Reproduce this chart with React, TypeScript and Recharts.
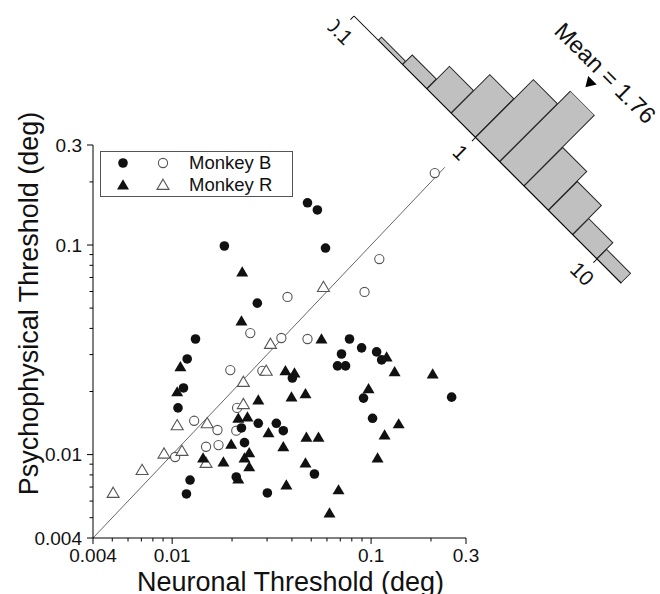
import React from 'react';
import {
  ScatterChart,
  Scatter,
  XAxis,
  YAxis,
  ReferenceLine,
  BarChart,
  Bar,
  ReferenceDot
} from 'recharts';

// Monkey B, filled circles (neuronal, psychophysical threshold in deg)
const monkeyBFilled = [
  { x: 0.0183, y: 0.0989 }, { x: 0.0479, y: 0.159 }, { x: 0.0537, y: 0.147 },
  { x: 0.059, y: 0.0967 }, { x: 0.0268, y: 0.0528 }, { x: 0.0131, y: 0.0356 },
  { x: 0.0119, y: 0.0286 }, { x: 0.0114, y: 0.0208 }, { x: 0.0107, y: 0.0167 },
  { x: 0.0402, y: 0.0232 }, { x: 0.0779, y: 0.0356 }, { x: 0.0896, y: 0.0323 },
  { x: 0.071, y: 0.0302 }, { x: 0.1066, y: 0.0309 }, { x: 0.113, y: 0.0283 },
  { x: 0.0678, y: 0.0265 }, { x: 0.0744, y: 0.0265 }, { x: 0.0916, y: 0.0186 },
  { x: 0.254, y: 0.0188 }, { x: 0.1017, y: 0.0149 }, { x: 0.0519, y: 0.00808 },
  { x: 0.0271, y: 0.0141 }, { x: 0.0334, y: 0.0141 }, { x: 0.0362, y: 0.013 },
  { x: 0.0223, y: 0.0134 }, { x: 0.0231, y: 0.0114 }, { x: 0.021, y: 0.00782 },
  { x: 0.0123, y: 0.00756 }, { x: 0.0118, y: 0.00649 }, { x: 0.0301, y: 0.00656 },
];

// Monkey B, open circles
const monkeyBOpen = [
  { x: 0.209, y: 0.2205 }, { x: 0.11, y: 0.0857 }, { x: 0.0927, y: 0.0597 },
  { x: 0.038, y: 0.0565 }, { x: 0.0247, y: 0.038 }, { x: 0.0354, y: 0.036 },
  { x: 0.0479, y: 0.0356 }, { x: 0.0196, y: 0.0253 }, { x: 0.0284, y: 0.0251 },
  { x: 0.0212, y: 0.0167 }, { x: 0.0129, y: 0.0145 }, { x: 0.0169, y: 0.0131 },
  { x: 0.021, y: 0.013 }, { x: 0.0148, y: 0.0109 }, { x: 0.0171, y: 0.0111 },
  { x: 0.01035, y: 0.00974 },
];

// Monkey R, filled triangles
const monkeyRFilled = [
  { x: 0.0225, y: 0.0743 }, { x: 0.0223, y: 0.0434 }, { x: 0.0563, y: 0.0356 },
  { x: 0.011, y: 0.0262 }, { x: 0.0371, y: 0.0251 }, { x: 0.0412, y: 0.0245 },
  { x: 0.1197, y: 0.0292 }, { x: 0.1313, y: 0.0248 }, { x: 0.204, y: 0.0242 },
  { x: 0.0106, y: 0.0199 }, { x: 0.0271, y: 0.0182 }, { x: 0.0398, y: 0.0188 },
  { x: 0.0468, y: 0.0195 }, { x: 0.0971, y: 0.0206 }, { x: 0.1376, y: 0.014 },
  { x: 0.1169, y: 0.0124 }, { x: 0.0473, y: 0.0121 }, { x: 0.0544, y: 0.0121 },
  { x: 0.1078, y: 0.00963 }, { x: 0.0468, y: 0.00912 }, { x: 0.0686, y: 0.00678 },
  { x: 0.0618, y: 0.00526 }, { x: 0.0215, y: 0.0149 }, { x: 0.0239, y: 0.0151 },
  { x: 0.0305, y: 0.0127 }, { x: 0.0198, y: 0.0112 }, { x: 0.0362, y: 0.0109 },
  { x: 0.0244, y: 0.0102 }, { x: 0.0231, y: 0.00963 }, { x: 0.0244, y: 0.00873 },
  { x: 0.0143, y: 0.00963 }, { x: 0.0181, y: 0.00922 }, { x: 0.0215, y: 0.00765 },
  { x: 0.0375, y: 0.00716 },
];

// Monkey R, open triangles
const monkeyROpen = [
  { x: 0.0576, y: 0.063 }, { x: 0.0312, y: 0.0337 }, { x: 0.0297, y: 0.0251 },
  { x: 0.0228, y: 0.0222 }, { x: 0.0228, y: 0.0174 }, { x: 0.0106, y: 0.0138 },
  { x: 0.015, y: 0.0141 }, { x: 0.0112, y: 0.0104 }, { x: 0.0091, y: 0.0101 },
  { x: 0.0148, y: 0.00912 }, { x: 0.00706, y: 0.00844 }, { x: 0.00505, y: 0.00656 },
];

const legendLabels = ['Monkey B', 'Monkey R'];

const axisDomain = [0.004, 0.3];
const majorTicks = [0.004, 0.01, 0.1, 0.3];
const minorTicks = [0.005, 0.006, 0.007, 0.008, 0.009, 0.02, 0.03, 0.04, 0.05, 0.06, 0.07, 0.08, 0.09, 0.2];
const allTicks = [...majorTicks, ...minorTicks].sort((a, b) => a - b);
const unityLine = [0.004, 0.235];

// histogram of threshold ratio, log10 bin centres (0.2 log units wide)
const ratioBinLog = [-0.7, -0.5, -0.3, -0.1, 0.1, 0.3, 0.5, 0.7, 0.9, 1.1];
const ratioCounts = [1, 3, 7, 12, 18, 22, 12, 9, 5, 3];
const ratioTicksLog = [-1, 0, 1];
const meanRatio = 1.76;

const histData = ratioBinLog.map((c, i) => ({ c, n: ratioCounts[i] }));

const XTick = ({ x, y, payload }: any) => {
  const major = majorTicks.includes(payload.value);
  return (
    <g>
      <line x1={x} x2={x} y1={y} y2={y + (major ? 6 : 3.5)} stroke="#000" />
      {major && (
        <text x={x} y={y + 24} textAnchor="middle" fontSize={19} fill="#111">{payload.value}</text>
      )}
    </g>
  );
};

const YTick = ({ x, y, payload }: any) => {
  const major = majorTicks.includes(payload.value);
  return (
    <g>
      <line x1={x} x2={x - (major ? 6 : 3.5)} y1={y} y2={y} stroke="#000" />
      {major && (
        <text x={x - 11} y={y} dy="0.35em" textAnchor="end" fontSize={19} fill="#111">{payload.value}</text>
      )}
    </g>
  );
};

const HistTick = ({ x, y, payload }: any) => (
  <g>
    <line x1={x} x2={x} y1={y} y2={y + 5} stroke="#000" />
    <text x={x} y={y + 21} dy="0.35em" textAnchor="middle" fontSize={21} fill="#111">
      {String(+Math.pow(10, payload.value).toFixed(1))}
    </text>
  </g>
);

const MeanMarker = ({ cx, cy }: any) => (
  <g>
    <path d={`M${cx - 6},${cy - 5} L${cx + 6},${cy - 5} L${cx},${cy + 5} Z`} fill="#000" />
    <text x={cx + 4} y={cy - 11} textAnchor="middle" fontSize={23.5} fill="#111">{`Mean = ${meanRatio}`}</text>
  </g>
);

const filledCircle = (p: any) => <circle cx={p.cx} cy={p.cy} r={4.8} fill="#111" />;
const openCircle = (p: any) => <circle cx={p.cx} cy={p.cy} r={4.6} fill="#fff" stroke="#555" strokeWidth={1.1} />;
const triPath = (cx: number, cy: number) => `M${cx},${cy - 5.8} L${cx + 6},${cy + 4.4} L${cx - 6},${cy + 4.4} Z`;
const filledTri = (p: any) => <path d={triPath(p.cx, p.cy)} fill="#111" />;
const openTri = (p: any) => <path d={triPath(p.cx, p.cy)} fill="#fff" stroke="#555" strokeWidth={1.1} />;

const YLabel = ({ viewBox }: any) => {
  const cx = viewBox.x + 38;
  const cy = viewBox.y + viewBox.height / 2 - 38;
  return (
    <text x={cx} y={cy} transform={`rotate(-90, ${cx}, ${cy})`} textAnchor="middle" fontSize={27} fill="#111">
      Psychophysical Threshold (deg)
    </text>
  );
};

const XLabel = ({ viewBox }: any) => (
  <text x={viewBox.x + viewBox.width / 2 + 11} y={viewBox.y + 53} textAnchor="middle" fontSize={27} fill="#111">
    Neuronal Threshold (deg)
  </text>
);

const App = () => {
  return (
    <div style={{ position: 'absolute', left: 0, top: 0, width: 660, height: 594, overflow: 'hidden', background: '#fff', fontFamily: '"Liberation Sans", Arial, sans-serif' }}>
      <ScatterChart width={490} height={594} margin={{ top: 145, right: 24, left: 0, bottom: 0 }}>
        <XAxis
          type="number" dataKey="x" scale="log" domain={axisDomain} allowDataOverflow
          ticks={allTicks} interval={0} tickSize={0} tickMargin={0} tickLine={false}
          tick={<XTick />} axisLine={{ stroke: '#000' }} height={56}
          label={<XLabel />}
        />
        <YAxis
          type="number" dataKey="y" scale="log" domain={axisDomain} allowDataOverflow
          ticks={allTicks} interval={0} tickSize={0} tickMargin={0} tickLine={false}
          tick={<YTick />} axisLine={{ stroke: '#000' }} width={93}
          label={<YLabel />}
        />
        <ReferenceLine
          segment={[{ x: unityLine[0], y: unityLine[0] }, { x: unityLine[1], y: unityLine[1] }]}
          stroke="#666" strokeWidth={1} ifOverflow="visible"
        />
        <Scatter data={monkeyBOpen} shape={openCircle} isAnimationActive={false} />
        <Scatter data={monkeyROpen} shape={openTri} isAnimationActive={false} />
        <Scatter data={monkeyBFilled} shape={filledCircle} isAnimationActive={false} />
        <Scatter data={monkeyRFilled} shape={filledTri} isAnimationActive={false} />
      </ScatterChart>

      <div style={{ position: 'absolute', left: 100, top: 151, width: 193, height: 46, boxSizing: 'border-box', border: '1px solid #555', background: '#fff' }}>
        <svg width={191} height={44} style={{ display: 'block' }}>
          <circle cx={22} cy={11} r={4.8} fill="#111" />
          <circle cx={62} cy={11} r={4.6} fill="#fff" stroke="#555" strokeWidth={1.1} />
          <text x={88} y={11} dy="0.35em" fontSize={18.5} fill="#111">{legendLabels[0]}</text>
          <path d={triPath(22, 33)} fill="#111" />
          <path d={triPath(62, 33)} fill="#fff" stroke="#555" strokeWidth={1.1} />
          <text x={88} y={33} dy="0.35em" fontSize={18.5} fill="#111">{legendLabels[1]}</text>
        </svg>
      </div>

      <div style={{ position: 'absolute', left: 343.5, top: -134.5, width: 398, height: 180, transform: 'rotate(45deg)', transformOrigin: '10px 150px' }}>
        <BarChart width={398} height={180} data={histData} margin={{ top: 50, right: 10, bottom: 0, left: 10 }} barCategoryGap={0} barGap={0}>
          <XAxis
            type="number" dataKey="c" domain={[-1, 1.2]} allowDataOverflow ticks={ratioTicksLog}
            interval={0} height={30} tickSize={0} tickMargin={0} tickLine={false}
            tick={<HistTick />} axisLine={{ stroke: '#000' }}
          />
          <YAxis hide type="number" domain={[0, 22]} allowDataOverflow />
          <Bar dataKey="n" fill="#c0c0c0" stroke="#222" strokeWidth={1} isAnimationActive={false} />
          <ReferenceDot x={Math.log10(meanRatio)} y={26} ifOverflow="visible" shape={MeanMarker} />
        </BarChart>
      </div>
    </div>
  );
};

export default App;
